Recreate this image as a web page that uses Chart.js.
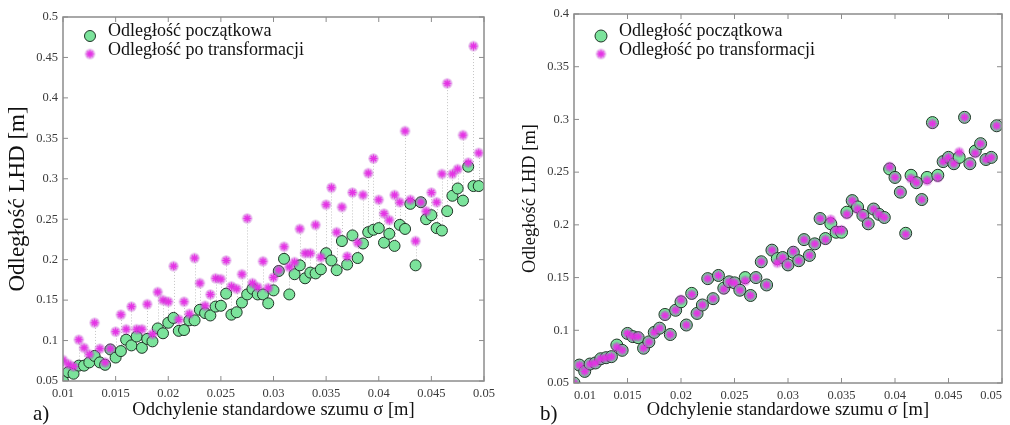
<!DOCTYPE html>
<html>
<head>
<meta charset="utf-8">
<script src="https://cdn.jsdelivr.net/npm/chart.js@4.4.0/dist/chart.umd.min.js"></script>
<style>
  body { margin: 0; background: #fff; width: 1010px; height: 425px; overflow: hidden; position: relative; font-family: "Liberation Serif", serif; }
  .box { position: absolute; top: 0; width: 505px; height: 425px; }
  .tag { position: absolute; font-size: 21px; color: #111; line-height: 1; }
</style>
</head>
<body>
<div class="box" style="left:0"><canvas id="chartA" width="505" height="425"></canvas></div>
<div class="box" style="left:505px"><canvas id="chartB" width="505" height="425"></canvas></div>
<div class="tag" style="left:33px;top:403px">a)</div>
<div class="tag" style="left:540px;top:403px">b)</div>
<script>
// noise standard deviation [m]
const sigma = [0.01,0.0105,0.011,0.0115,0.012,0.0125,0.013,0.0135,0.014,0.0145,
  0.015,0.0155,0.016,0.0165,0.017,0.0175,0.018,0.0185,0.019,0.0195,
  0.02,0.0205,0.021,0.0215,0.022,0.0225,0.023,0.0235,0.024,0.0245,
  0.025,0.0255,0.026,0.0265,0.027,0.0275,0.028,0.0285,0.029,0.0295,
  0.03,0.0305,0.031,0.0315,0.032,0.0325,0.033,0.0335,0.034,0.0345,
  0.035,0.0355,0.036,0.0365,0.037,0.0375,0.038,0.0385,0.039,0.0395,
  0.04,0.0405,0.041,0.0415,0.042,0.0425,0.043,0.0435,0.044,0.0445,
  0.045,0.0455,0.046,0.0465,0.047,0.0475,0.048,0.0485,0.049,0.0495];

// a) initial distance / distance after transformation
const initialA = [0.050,0.061,0.059,0.069,0.069,0.073,0.081,0.073,0.070,0.089,
  0.079,0.087,0.101,0.094,0.105,0.091,0.102,0.099,0.115,0.109,
  0.122,0.128,0.112,0.113,0.125,0.125,0.138,0.134,0.131,0.142,
  0.143,0.158,0.132,0.135,0.147,0.157,0.164,0.157,0.157,0.146,
  0.162,0.186,0.201,0.157,0.182,0.193,0.177,0.184,0.183,0.188,
  0.208,0.199,0.187,0.223,0.194,0.230,0.202,0.220,0.234,0.237,
  0.239,0.221,0.232,0.217,0.243,0.238,0.269,0.193,0.271,0.250,
  0.255,0.239,0.236,0.260,0.279,0.288,0.273,0.315,0.291,0.291];
const transformedA = [0.076,0.071,0.068,0.101,0.091,0.083,0.122,0.090,0.073,0.090,
  0.111,0.132,0.114,0.142,0.114,0.114,0.145,0.108,0.160,0.150,
  0.148,0.192,0.126,0.148,0.133,0.202,0.171,0.143,0.157,0.177,
  0.176,0.199,0.167,0.164,0.182,0.251,0.171,0.166,0.198,0.165,
  0.178,0.187,0.216,0.191,0.197,0.238,0.208,0.208,0.243,0.203,
  0.268,0.289,0.234,0.265,0.204,0.283,0.221,0.280,0.307,0.325,
  0.274,0.257,0.249,0.280,0.271,0.359,0.274,0.223,0.271,0.260,
  0.283,0.271,0.306,0.418,0.306,0.312,0.354,0.320,0.464,0.332];

// b)
const initialB = [0.050,0.067,0.061,0.068,0.069,0.073,0.074,0.075,0.086,0.081,
  0.097,0.094,0.093,0.083,0.089,0.098,0.102,0.115,0.096,0.119,
  0.127,0.105,0.135,0.116,0.124,0.149,0.130,0.152,0.140,0.146,
  0.145,0.138,0.150,0.133,0.150,0.165,0.143,0.176,0.168,0.169,
  0.162,0.174,0.166,0.186,0.171,0.182,0.206,0.187,0.201,0.193,
  0.193,0.212,0.223,0.217,0.209,0.201,0.215,0.210,0.207,0.253,
  0.245,0.231,0.192,0.247,0.240,0.224,0.245,0.297,0.247,0.260,
  0.264,0.258,0.264,0.302,0.258,0.270,0.277,0.262,0.264,0.294];
const transformedB = [0.050,0.067,0.061,0.068,0.069,0.073,0.074,0.075,0.084,0.081,
  0.097,0.094,0.094,0.083,0.089,0.098,0.102,0.114,0.096,0.119,
  0.129,0.105,0.134,0.116,0.124,0.149,0.130,0.152,0.139,0.146,
  0.145,0.138,0.147,0.133,0.150,0.165,0.143,0.176,0.164,0.169,
  0.162,0.175,0.166,0.186,0.171,0.182,0.206,0.186,0.205,0.195,
  0.195,0.210,0.223,0.215,0.209,0.201,0.215,0.210,0.207,0.255,
  0.245,0.231,0.191,0.244,0.240,0.224,0.242,0.296,0.245,0.260,
  0.264,0.258,0.269,0.302,0.258,0.268,0.277,0.262,0.264,0.294];

const xTicks = [0.01,0.015,0.02,0.025,0.03,0.035,0.04,0.045,0.05];
const yTicksA = [0.05,0.1,0.15,0.2,0.25,0.3,0.35,0.4,0.45,0.5];
const yTicksB = [0.05,0.1,0.15,0.2,0.25,0.3,0.35,0.4];

const labels = ['Odległość początkowa', 'Odległość po transformacji'];
const xTitle = 'Odchylenie standardowe szumu σ [m]';
const yTitle = 'Odległość LHD [m]';

const GREEN = '#7be39b';
const MAGENTA = '#e533e5';

// asterisk marker with a soft purple halo (looks like the blurred original)
function starMarker() {
  const c = document.createElement('canvas');
  c.width = 13; c.height = 13;
  const g = c.getContext('2d');
  const m = 6.5, r = 4, k = r * Math.SQRT1_2;
  g.fillStyle = 'rgba(175,45,195,0.33)';
  g.beginPath(); g.arc(m, m, 5.2, 0, Math.PI * 2); g.fill();
  g.strokeStyle = MAGENTA;
  g.lineWidth = 1.4;
  g.beginPath();
  g.moveTo(m - r, m); g.lineTo(m + r, m);
  g.moveTo(m, m - r); g.lineTo(m, m + r);
  g.moveTo(m - k, m - k); g.lineTo(m + k, m + k);
  g.moveTo(m - k, m + k); g.lineTo(m + k, m - k);
  g.stroke();
  return c;
}
const STAR = starMarker();

// box around the plot with inward ticks on all four sides
const frame = {
  id: 'frame',
  afterDraw(chart) {
    const {ctx, chartArea: a, scales: {x, y}} = chart;
    ctx.save();
    ctx.strokeStyle = '#8c8c8c';
    ctx.lineWidth = 1.5;
    ctx.strokeRect(a.left, a.top, a.right - a.left, a.bottom - a.top);
    ctx.lineWidth = 1;
    ctx.beginPath();
    x.ticks.forEach(t => {
      const px = x.getPixelForValue(t.value);
      ctx.moveTo(px, a.bottom); ctx.lineTo(px, a.bottom - 5);
      ctx.moveTo(px, a.top); ctx.lineTo(px, a.top + 5);
    });
    y.ticks.forEach(t => {
      const py = y.getPixelForValue(t.value);
      ctx.moveTo(a.left, py); ctx.lineTo(a.left + 5, py);
      ctx.moveTo(a.right, py); ctx.lineTo(a.right - 5, py);
    });
    ctx.stroke();
    ctx.restore();
  }
};

// dotted stems between the two distances (chart a only)
const stems = {
  id: 'stems',
  beforeDatasetsDraw(chart, args, opts) {
    if (!opts.on) return;
    const {ctx, scales: {x, y}, data} = chart;
    const d0 = data.datasets[0].data, d1 = data.datasets[1].data;
    ctx.save();
    ctx.strokeStyle = '#c4c4c4';
    ctx.lineWidth = 1;
    ctx.setLineDash([1, 2]);
    ctx.beginPath();
    d0.forEach((p, i) => {
      const px = Math.round(x.getPixelForValue(p.x)) + 0.5;
      ctx.moveTo(px, y.getPixelForValue(p.y));
      ctx.lineTo(px, y.getPixelForValue(d1[i].y));
    });
    ctx.stroke();
    ctx.restore();
  }
};

// legend in the upper-left corner of the plot
const innerLegend = {
  id: 'innerLegend',
  afterDraw(chart, args, opts) {
    const {ctx, chartArea: a} = chart;
    ctx.save();
    ctx.font = '18px "Liberation Serif"';
    ctx.textBaseline = 'middle';
    chart.data.datasets.forEach((ds, i) => {
      const mx = a.left + opts.dx, my = a.top + opts.dy + i * opts.gap;
      if (ds.pointStyle === 'circle') {
        ctx.beginPath();
        ctx.arc(mx, my + 5, ds.pointRadius, 0, Math.PI * 2);
        ctx.fillStyle = ds.backgroundColor;
        ctx.fill();
        ctx.lineWidth = ds.borderWidth;
        ctx.strokeStyle = ds.borderColor;
        ctx.stroke();
      } else {
        ctx.drawImage(ds.pointStyle, mx - 6.5, my + 4 - 6.5);
      }
      ctx.fillStyle = '#111';
      ctx.fillText(ds.label, mx + opts.tx, my);
    });
    ctx.restore();
  }
};

function makeChart(id, initial, transformed, yTicks, cfg) {
  const tickFont = {family: '"Liberation Serif"', size: 12.5};
  return new Chart(document.getElementById(id), {
    type: 'scatter',
    data: {
      datasets: [{
        label: labels[0],
        data: sigma.map((s, i) => ({x: s, y: initial[i]})),
        pointStyle: 'circle',
        pointRadius: cfg.r,
        backgroundColor: GREEN,
        borderColor: '#1f3326',
        borderWidth: 1,
        order: 2
      }, {
        label: labels[1],
        data: sigma.map((s, i) => ({x: s, y: transformed[i]})),
        pointStyle: STAR,
        pointRadius: 4,
        backgroundColor: MAGENTA,
        borderColor: MAGENTA,
        borderWidth: 1.4,
        order: 1
      }]
    },
    options: {
      responsive: false,
      animation: false,
      events: [],
      layout: {padding: {left: 0, right: cfg.padRight, top: cfg.padTop, bottom: 0}},
      scales: {
        x: {
          type: 'linear',
          min: 0.01, max: 0.05,
          afterBuildTicks: s => { s.ticks = xTicks.map(v => ({value: v})); },
          afterFit: s => { s.height = cfg.xH; s.paddingLeft = 0; s.paddingRight = 0; },
          grid: {display: true, drawOnChartArea: false, drawTicks: false},
          border: {display: false},
          ticks: {font: tickFont, color: '#3a3a3a', padding: 5, maxRotation: 0, autoSkip: false,
                  align: cfg.align, callback: v => String(+v.toFixed(3))},
          title: {display: true, text: xTitle, color: '#111',
                  font: {family: '"Liberation Serif"', size: 18.5}, padding: {top: 0, bottom: 4}}
        },
        y: {
          min: 0.05, max: yTicks[yTicks.length - 1],
          afterBuildTicks: s => { s.ticks = yTicks.map(v => ({value: v})); },
          afterFit: s => { s.width = cfg.yW; },
          grid: {display: true, drawOnChartArea: false, drawTicks: false},
          border: {display: false},
          ticks: {font: tickFont, color: '#3a3a3a', padding: 5, callback: v => String(+v.toFixed(2))},
          title: {display: true, text: yTitle, color: '#111',
                  font: {family: '"Liberation Serif"', size: cfg.yTitleSize}, padding: {top: cfg.yTitlePad, bottom: 0}}
        }
      },
      plugins: {
        legend: {display: false},
        tooltip: {enabled: false},
        stems: {on: cfg.stems},
        innerLegend: {dx: cfg.legX, dy: cfg.legY, gap: 19, tx: 18}
      }
    },
    plugins: [stems, frame, innerLegend]
  });
}

makeChart('chartA', initialA, transformedA, yTicksA,
  {r: 5.5, padRight: 21, padTop: 17, xH: 44, yW: 63, align: 'center', yTitleSize: 23, yTitlePad: 4,
   stems: true, legX: 27, legY: 14});
makeChart('chartB', initialB, transformedB, yTicksB,
  {r: 6, padRight: 8, padTop: 14, xH: 42, yW: 69, align: 'inner', yTitleSize: 18.5, yTitlePad: 14,
   stems: false, legX: 27, legY: 17});
</script>
</body>
</html>
